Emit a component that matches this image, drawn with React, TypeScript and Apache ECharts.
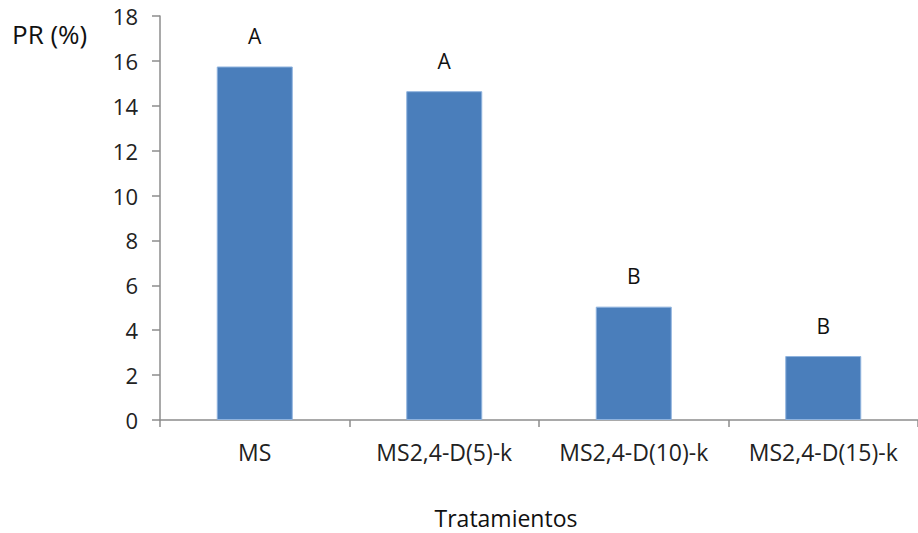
import React, { useEffect, useRef } from "react";
import * as echarts from "echarts";

const categories = ["MS", "MS2,4-D(5)-k", "MS2,4-D(10)-k", "MS2,4-D(15)-k"];
const values = [15.75, 14.65, 5.05, 2.85];
const letters = ["A", "A", "B", "B"];
const yTicks = { min: 0, max: 18, interval: 2 };

const FONT = "'Open Sans', 'Noto Sans', sans-serif";

export default function App() {
  const ref = useRef<HTMLDivElement>(null);
  useEffect(() => {
    if (!ref.current) return;
    const chart = echarts.init(ref.current, null, { renderer: "svg" });
    chart.setOption({
      animation: false,
      backgroundColor: "#ffffff",
      grid: { left: 160, top: 16, width: 762, bottom: 113, containLabel: false },
      xAxis: {
        type: "category",
        data: categories,
        axisLine: { lineStyle: { color: "#8c8c8c", width: 1.5 } },
        axisTick: { show: true, length: 7, lineStyle: { color: "#8c8c8c", width: 1.5 } },
        axisLabel: {
          color: "#222",
          fontSize: 23,
          fontFamily: FONT,
          margin: 20,
          interval: 0,
          hideOverlap: false,
        },
      },
      yAxis: {
        type: "value",
        min: yTicks.min,
        max: yTicks.max,
        interval: yTicks.interval,
        splitLine: { show: false },
        axisLine: { show: true, lineStyle: { color: "#8c8c8c", width: 1.5 } },
        axisTick: { show: true, length: 8, lineStyle: { color: "#8c8c8c", width: 1.5 } },
        axisLabel: { color: "#222", fontSize: 22, fontFamily: FONT, margin: 22 },
      },
      series: [
        {
          type: "bar",
          data: values,
          barWidth: 76,
          itemStyle: { color: "#4a7ebb", borderColor: "#8fb3de", borderWidth: 1 },
          label: {
            show: true,
            position: "top",
            distance: 20,
            fontSize: 21,
            fontFamily: FONT,
            color: "#111",
            formatter: (p: any) => letters[p.dataIndex],
          },
        },
      ],
      graphic: [
        {
          type: "text",
          x: 12,
          y: 34,
          style: {
            text: "PR (%)",
            fontSize: 26,
            fontFamily: FONT,
            fill: "#111",
            verticalAlign: "middle",
          },
        },
        {
          type: "text",
          x: 506,
          y: 518,
          style: {
            text: "Tratamientos",
            fontSize: 23,
            fontFamily: FONT,
            fill: "#111",
            align: "center",
            verticalAlign: "middle",
          },
        },
      ],
    });
    return () => chart.dispose();
  }, []);
  return (
    <div
      ref={ref}
      style={{ position: "fixed", left: 0, top: 0, width: 918, height: 533 }}
    />
  );
}
